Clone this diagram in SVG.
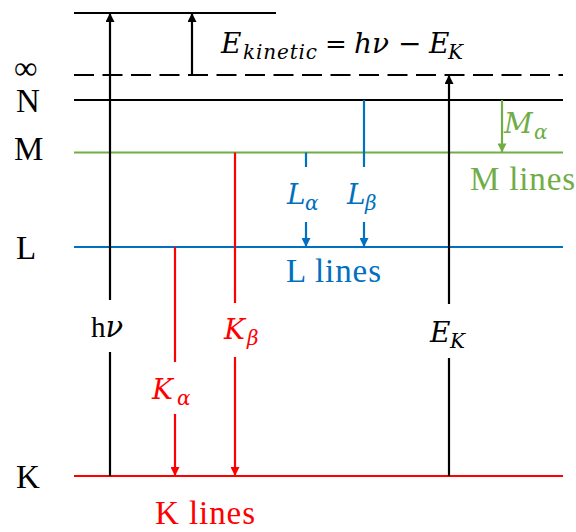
<svg xmlns="http://www.w3.org/2000/svg" width="576" height="532" viewBox="0 0 576 532">
<style>
.lvl{stroke-width:2.2;fill:none}
.k{stroke:#000}
.r{stroke:#FF0000}
.b{stroke:#0070C0}
.g{stroke:#70AD47}
.lab{font-family:"Liberation Serif","Times New Roman",serif;font-size:33px;fill:#000}
.mi{font-family:"DejaVu Serif",serif;font-style:italic;font-size:28px}
.sub{font-size:20px}
.tr{fill:#FF0000}
.tb{fill:#0070C0}
.tg{fill:#70AD47}
.tk{fill:#000}
</style>
<defs>
<marker id="ak" viewBox="0 0 10 10" refX="10" refY="5" markerUnits="userSpaceOnUse" markerWidth="11" markerHeight="9" orient="auto"><path d="M0,0 L10,5 L0,10 z" fill="#000"/></marker>
<marker id="ar" viewBox="0 0 10 10" refX="10" refY="5" markerUnits="userSpaceOnUse" markerWidth="11" markerHeight="9" orient="auto"><path d="M0,0 L10,5 L0,10 z" fill="#FF0000"/></marker>
<marker id="ab" viewBox="0 0 10 10" refX="10" refY="5" markerUnits="userSpaceOnUse" markerWidth="11" markerHeight="9" orient="auto"><path d="M0,0 L10,5 L0,10 z" fill="#0070C0"/></marker>
<marker id="ag" viewBox="0 0 10 10" refX="10" refY="5" markerUnits="userSpaceOnUse" markerWidth="11" markerHeight="9" orient="auto"><path d="M0,0 L10,5 L0,10 z" fill="#70AD47"/></marker>
</defs>

<g id="level-free">
<line class="lvl k" x1="74" y1="13" x2="276" y2="13"/>
</g>
<g id="level-inf">
<line class="lvl k" x1="74" y1="75" x2="563" y2="75" stroke-dasharray="20 8.5"/>
<text class="lab" x="14" y="79" font-size="28">∞</text>
</g>
<g id="level-N">
<line class="lvl k" x1="74" y1="100" x2="563" y2="100"/>
<text class="lab" x="16" y="112">N</text>
</g>
<g id="level-M">
<line class="lvl g" x1="74" y1="152.5" x2="563" y2="152.5"/>
<text class="lab" x="14" y="160">M</text>
<text class="lab tg" x="470" y="190" textLength="105">M lines</text>
</g>
<g id="level-L">
<line class="lvl b" x1="74" y1="247" x2="563" y2="247"/>
<text class="lab" x="16" y="259">L</text>
<text class="lab tb" x="286" y="282" textLength="95">L lines</text>
</g>
<g id="level-K">
<line class="lvl r" x1="74" y1="476" x2="563" y2="476"/>
<text class="lab" x="16" y="488">K</text>
<text class="lab tr" x="155" y="524" textLength="100">K lines</text>
</g>

<g id="equation" class="tk">
<text class="mi" font-size="26" x="221" y="53">E<tspan class="sub" x="243" dy="6" textLength="74">kinetic</tspan><tspan font-style="normal" x="325" dy="-6" font-size="26">=</tspan><tspan x="354">hν</tspan><tspan font-style="normal" x="398">−</tspan><tspan x="429">E</tspan><tspan class="sub" x="448" dy="6">K</tspan></text>
</g>

<g id="connectors">
<line class="lvl k" x1="110" y1="476" x2="110" y2="352"/>
<line class="lvl k" x1="110" y1="300" x2="110" y2="13" marker-end="url(#ak)"/>
<line class="lvl k" x1="192" y1="75" x2="192" y2="13" marker-end="url(#ak)"/>
<line class="lvl k" x1="449" y1="476" x2="449" y2="358"/>
<line class="lvl k" x1="449" y1="304" x2="449" y2="75" marker-end="url(#ak)"/>
<line class="lvl g" x1="502" y1="100" x2="502" y2="152.5" marker-end="url(#ag)"/>
<line class="lvl b" x1="306" y1="152.5" x2="306" y2="167"/>
<line class="lvl b" x1="306" y1="222" x2="306" y2="247" marker-end="url(#ab)"/>
<line class="lvl b" x1="364" y1="100" x2="364" y2="167"/>
<line class="lvl b" x1="364" y1="222" x2="364" y2="247" marker-end="url(#ab)"/>
<line class="lvl r" x1="175" y1="247" x2="175" y2="362"/>
<line class="lvl r" x1="175" y1="414" x2="175" y2="476" marker-end="url(#ar)"/>
<line class="lvl r" x1="235" y1="152.5" x2="235" y2="303"/>
<line class="lvl r" x1="235" y1="357" x2="235" y2="476" marker-end="url(#ar)"/>
</g>

<g id="labels">
<text x="107" y="337" font-size="29" text-anchor="middle" class="tk"><tspan font-family="Liberation Serif,serif">h</tspan><tspan font-family="DejaVu Serif,serif" font-style="italic">ν</tspan></text>
<text class="mi tr" x="152" y="399">K<tspan class="sub" x="177" dy="6">α</tspan></text>
<text class="mi tr" x="224" y="339">K<tspan class="sub" x="247" dy="6">β</tspan></text>
<text class="mi tk" x="430" y="342">E<tspan class="sub" x="450" dy="6">K</tspan></text>
<text class="mi tb" x="287" y="204">L<tspan class="sub" x="305" dy="6">α</tspan></text>
<text class="mi tb" x="347" y="204">L<tspan class="sub" x="365" dy="6">β</tspan></text>
<text class="mi tg" x="504" y="133">M<tspan class="sub" x="534" dy="6">α</tspan></text>
</g>
</svg>
